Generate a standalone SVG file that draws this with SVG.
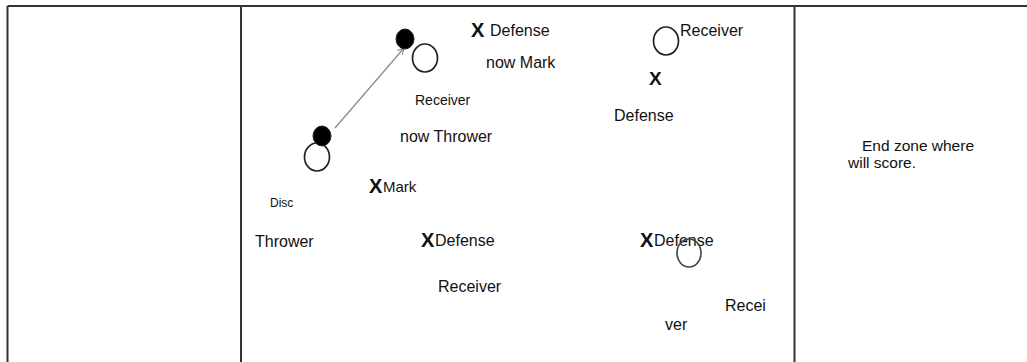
<svg xmlns="http://www.w3.org/2000/svg" width="1027" height="362" viewBox="0 0 1027 362">
<defs>
<style>
.t{font-family:"Liberation Sans",Arial,sans-serif;font-size:16px;fill:#111}
.x{font-family:"Liberation Sans",Arial,sans-serif;font-weight:bold;font-size:20px;fill:#111}
.grid{stroke:#333;stroke-width:2;fill:none}
.open{fill:#fff;stroke:#222;stroke-width:1.7}
.disc{fill:#000;stroke:#222;stroke-width:1}
</style>
<marker id="ah" viewBox="0 0 10 10" refX="9" refY="5" markerWidth="8" markerHeight="8" orient="auto" markerUnits="userSpaceOnUse">
<path d="M1,1 L9,5 L1,9" fill="none" stroke="#888" stroke-width="1.3"/>
</marker>
</defs>
<rect width="1027" height="362" fill="#fff"/>
<g id="table">
<line class="grid" x1="7.5" y1="6" x2="1027" y2="6"/>
<line class="grid" x1="7.5" y1="6" x2="7.5" y2="362"/>
<line class="grid" x1="241" y1="6" x2="241" y2="362"/>
<line class="grid" x1="794.5" y1="6" x2="794.5" y2="362"/>
</g>
<g id="connectors">
<line x1="335" y1="128" x2="404" y2="48" stroke="#888" stroke-width="1.2" marker-end="url(#ah)"/>
</g>
<g id="thrower">
<ellipse class="open" cx="317" cy="157" rx="12.5" ry="14"/>
<ellipse class="disc" cx="322" cy="136" rx="9" ry="10"/>
<text class="t" x="270" y="207" style="font-size:12px">Disc</text>
<text class="t" x="255" y="247">Thrower</text>
</g>
<g id="receiver-now-thrower">
<ellipse class="open" cx="425" cy="58" rx="12.5" ry="14"/>
<ellipse class="disc" cx="405" cy="39" rx="9" ry="10"/>
<text class="t" x="415" y="105" style="font-size:14px">Receiver</text>
<text class="t" x="400" y="142">now Thrower</text>
</g>
<g id="defense-now-mark">
<text class="x" x="471" y="37">X</text>
<text class="t" x="490" y="36">Defense</text>
<text class="t" x="486" y="68">now Mark</text>
</g>
<g id="receiver-top">
<ellipse class="open" cx="666" cy="41" rx="12.5" ry="14"/>
<text class="t" x="680" y="36">Receiver</text>
</g>
<g id="defense-top">
<text class="x" x="649" y="85" style="font-size:19px">X</text>
<text class="t" x="614" y="121">Defense</text>
</g>
<g id="mark">
<text class="x" x="369" y="193">X</text>
<text class="t" x="383" y="192" style="font-size:15px">Mark</text>
</g>
<g id="defense-mid">
<text class="x" x="421" y="247">X</text>
<text class="t" x="435" y="246">Defense</text>
<text class="t" x="438" y="292">Receiver</text>
</g>
<g id="defense-right">
<text class="x" x="640" y="247">X</text>
<text class="t" x="654" y="246">Defense</text>
<ellipse cx="689" cy="253" rx="12" ry="14" fill="none" stroke="#444" stroke-width="1.6"/>
<text class="t" x="725" y="311">Recei</text>
<text class="t" x="665" y="330">ver</text>
</g>
<g id="endzone">
<text class="t" x="862" y="151" style="font-size:15.5px">End zone where</text>
<text class="t" x="848" y="168" style="font-size:15.5px">will score.</text>
</g>
</svg>
